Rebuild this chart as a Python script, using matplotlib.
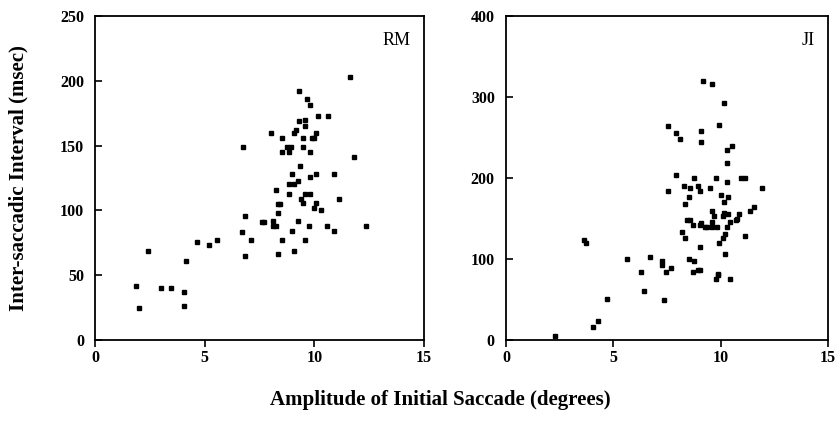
import matplotlib.pyplot as plt

plt.rcParams['font.family'] = ['Liberation Serif', 'DejaVu Serif']

# RM: amplitude (deg) vs inter-saccadic interval (msec)
rm_amp = [1.86, 2.02, 2.43, 3.0, 3.48, 4.07, 4.07, 4.15, 4.64, 5.21, 5.55,
          6.70, 6.86, 6.86, 7.11, 7.6, 7.7, 8.01, 11.61, 9.32, 9.65, 9.82,
          10.15, 10.64, 9.32, 9.58, 9.58, 9.07, 9.17, 10.06, 8.51, 9.50,
          9.9, 10.0, 8.75, 8.92, 9.50, 8.51, 8.83, 9.82, 11.80, 9.33, 9.0,
          10.08, 10.88, 9.82, 8.85, 9.09, 9.26, 8.27, 8.85, 9.58, 9.82,
          9.41, 9.50, 11.13, 10.08, 8.36, 8.44, 9.99, 10.32, 8.34, 8.10,
          9.26, 8.10, 8.27, 9.76, 10.56, 12.36, 9.0, 10.90, 8.51, 9.58,
          9.09, 8.34, 6.75]
rm_isi = [42, 25, 69, 40, 40, 37, 26, 61, 76, 73, 77,
          83, 96, 65, 77, 91, 91, 160, 203, 192, 186, 181,
          173, 173, 169, 170, 165, 160, 162, 160, 156, 156,
          156, 156, 149, 149, 149, 145, 145, 145, 141, 134, 128,
          128, 128, 126, 120, 120, 123, 116, 113, 113, 113,
          109, 106, 109, 106, 105, 105, 102, 100, 98, 92,
          92, 88, 88, 88, 88, 88, 84, 84, 77, 77,
          69, 66, 149]

# JI
ji_amp = [7.53, 7.94, 7.94, 7.53, 3.63, 3.72, 5.62, 6.70, 7.28, 7.28, 7.70,
          6.28, 7.45, 6.45, 7.36, 4.70, 4.29, 4.04, 2.30, 9.17, 9.59, 10.18,
          8.11, 9.11, 9.11, 9.94, 10.28, 10.52, 10.28, 8.77, 9.77, 10.94,
          11.12, 10.28, 8.28, 8.6, 8.94, 9.03, 9.52, 11.95, 8.53, 8.35,
          10.02, 10.35, 10.18, 11.54, 11.37, 9.6, 10.18, 10.35, 10.86, 9.68,
          10.78, 10.11, 8.43, 8.57, 9.62, 10.7, 10.46, 8.7, 9.03, 9.11,
          9.28, 9.37, 9.62, 9.82, 10.28, 8.19, 8.35, 10.2, 10.11, 11.12,
          9.95, 9.03, 10.2, 8.53, 8.77, 8.7, 8.94, 9.06, 9.86, 9.86, 9.78,
          10.46]
ji_isi = [264, 255, 204, 184, 124, 120, 100, 102, 98, 93, 89,
          84, 84, 60, 49, 51, 23, 16, 5, 320, 316, 293,
          248, 258, 244, 265, 235, 240, 219, 200, 200, 200,
          200, 195, 190, 188, 190, 184, 188, 188, 177, 168,
          179, 177, 170, 164, 159, 159, 157, 155, 155, 153,
          150, 153, 148, 148, 146, 148, 146, 142, 142, 144,
          140, 140, 140, 140, 140, 133, 126, 131, 126, 128,
          120, 115, 106, 100, 98, 84, 86, 86, 82, 80, 75,
          75]

fig = plt.figure(figsize=(8.38, 4.23), dpi=100)
ax1 = fig.add_axes([0.1134, 0.1962, 0.3926, 0.766])
ax2 = fig.add_axes([0.6038, 0.1962, 0.384, 0.766])

panels = [(ax1, rm_amp, rm_isi, 'RM', (0, 250), [0, 50, 100, 150, 200, 250]),
          (ax2, ji_amp, ji_isi, 'JI', (0, 400), [0, 100, 200, 300, 400])]

for ax, xs, ys, name, ylim, yt in panels:
    ax.plot(xs, ys, 's', color='black', markersize=3, linestyle='none')
    ax.set_xlim(0, 15)
    ax.set_ylim(*ylim)
    ax.set_xticks([0, 5, 10, 15])
    ax.set_yticks(yt)
    ax.tick_params(axis='x', direction='out', length=5, width=1.2, labelsize=11.5, pad=2)
    ax.tick_params(axis='y', direction='in', length=5, width=1.2, labelsize=11.5, pad=8)
    for lab in ax.get_xticklabels() + ax.get_yticklabels():
        lab.set_fontweight('bold')
    for sp in ax.spines.values():
        sp.set_linewidth(1.3)
    ax.text(0.96, 0.95, name, transform=ax.transAxes, ha='right', va='top', fontsize=13)

fig.text(0.525, 0.055, 'Amplitude of Initial Saccade (degrees)', ha='center', va='center',
         fontsize=15, fontweight='bold')
fig.text(0.022, 0.58, 'Inter-saccadic Interval (msec)', ha='center', va='center',
         rotation=90, fontsize=15, fontweight='bold')

plt.savefig('out.png', dpi=100)
